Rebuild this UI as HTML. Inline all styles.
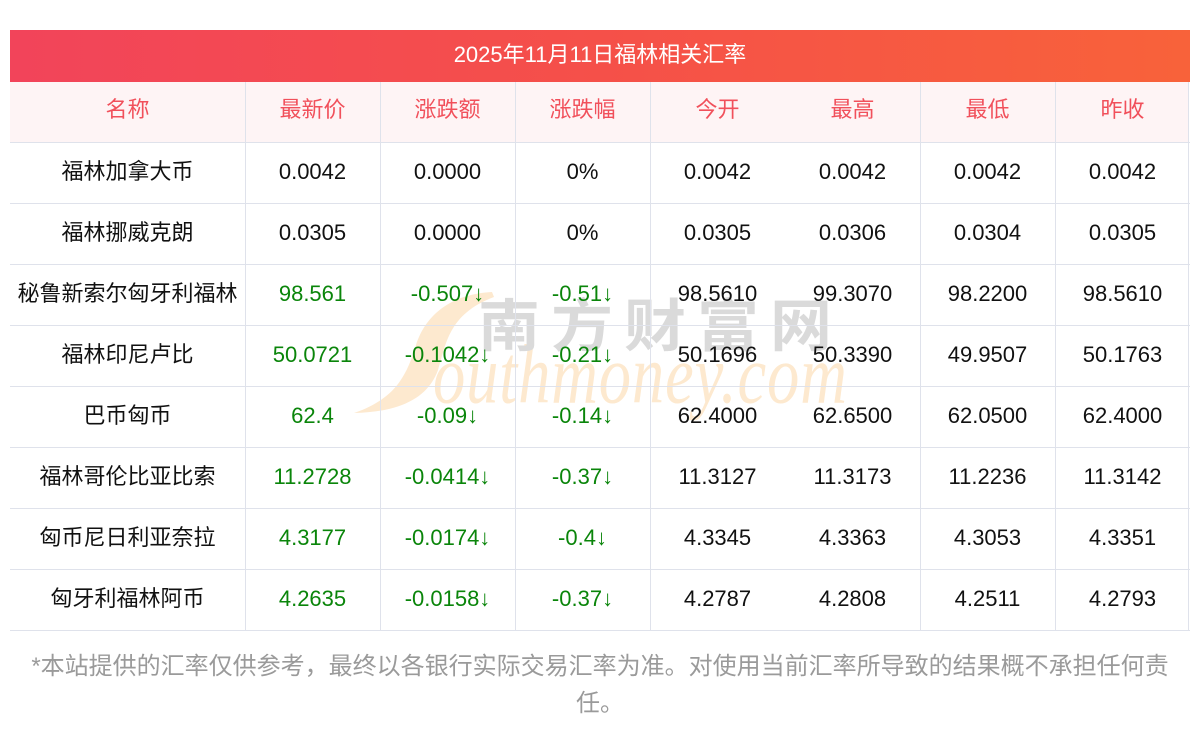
<!DOCTYPE html>
<html><head><meta charset="utf-8">
<style>
*{margin:0;padding:0;box-sizing:border-box}
html,body{width:1200px;height:733px;background:#fff;overflow:hidden}
body{position:relative;font-family:"Liberation Sans","Noto Sans CJK SC",sans-serif}
.title{position:absolute;left:10px;top:30px;width:1180px;height:52px;background:linear-gradient(90deg,#f2445a 0%,#f55049 50%,#f8623a 100%);color:#fff;font-size:22px;line-height:50px;text-align:center;z-index:3}
.hdrbg{position:absolute;left:10px;top:82px;width:1179px;height:60px;background:#fef4f5;z-index:0}
.row{position:absolute;left:10px;width:1180px;display:flex;z-index:4}
.row div{text-align:center;font-size:22px;color:#111;white-space:nowrap}
.row div:first-child{width:235px}
.row div:not(:first-child){width:135px}
.hdr div{color:#f1505b}
.g{color:#0a850a !important}
.hl{position:absolute;left:10px;width:1180px;height:1px;background:#dfe2eb;z-index:2}
.vl{position:absolute;top:82px;width:1px;height:549px;background:#dfe2eb;z-index:2}
.foot{position:absolute;left:0;top:648px;width:1200px;text-align:center;font-size:24px;line-height:37px;color:#9a9a9a;z-index:4}
.wm1{position:absolute;left:478px;top:290px;font-family:"Noto Sans CJK SC",sans-serif;font-weight:700;font-size:62px;line-height:62px;letter-spacing:11px;color:#dadada;z-index:1;transform:scaleY(0.92)}
.wm2{position:absolute;left:433px;top:340px;font-family:"Liberation Serif",serif;font-style:italic;font-size:76px;line-height:76px;color:#fde9cf;z-index:1;transform-origin:0 68px;transform:scale(0.85,1.1);letter-spacing:1px}
svg.s{position:absolute;left:0;top:0;z-index:1}
</style></head><body>
<div class="title">2025年11月11日福林相关汇率</div>
<div class="hdrbg"></div>

<svg class="s" width="1200" height="733"><path d="M492,292 C452,294 426,314 416,345 C406,378 394,399 354,413 C400,412 428,398 438,370 C446,345 448,314 494,297 Z" fill="#fde9cf"/></svg>
<div class="wm2">outhmoney.com</div>
<div class="wm1">南方财富网</div>

<div class="hl" style="top:142px"></div>
<div class="hl" style="top:203px"></div>
<div class="hl" style="top:264px"></div>
<div class="hl" style="top:325px"></div>
<div class="hl" style="top:386px"></div>
<div class="hl" style="top:447px"></div>
<div class="hl" style="top:508px"></div>
<div class="hl" style="top:569px"></div>
<div class="hl" style="top:630px"></div>
<div class="vl" style="left:245px"></div>
<div class="vl" style="left:380px"></div>
<div class="vl" style="left:515px"></div>
<div class="vl" style="left:650px"></div>
<div class="vl" style="left:920px"></div>
<div class="vl" style="left:1055px"></div>
<div class="vl" style="left:1188px"></div>

<div class="row hdr" style="top:82px;height:60px;line-height:56px"><div>名称</div><div>最新价</div><div>涨跌额</div><div>涨跌幅</div><div>今开</div><div>最高</div><div>最低</div><div>昨收</div></div>
<div class="row" style="top:142px;height:61px;line-height:59px"><div>福林加拿大币</div><div>0.0042</div><div>0.0000</div><div>0%</div><div>0.0042</div><div>0.0042</div><div>0.0042</div><div>0.0042</div></div>
<div class="row" style="top:203px;height:61px;line-height:59px"><div>福林挪威克朗</div><div>0.0305</div><div>0.0000</div><div>0%</div><div>0.0305</div><div>0.0306</div><div>0.0304</div><div>0.0305</div></div>
<div class="row" style="top:264px;height:61px;line-height:59px"><div>秘鲁新索尔匈牙利福林</div><div class="g">98.561</div><div class="g">-0.507↓</div><div class="g">-0.51↓</div><div>98.5610</div><div>99.3070</div><div>98.2200</div><div>98.5610</div></div>
<div class="row" style="top:325px;height:61px;line-height:59px"><div>福林印尼卢比</div><div class="g">50.0721</div><div class="g">-0.1042↓</div><div class="g">-0.21↓</div><div>50.1696</div><div>50.3390</div><div>49.9507</div><div>50.1763</div></div>
<div class="row" style="top:386px;height:61px;line-height:59px"><div>巴币匈币</div><div class="g">62.4</div><div class="g">-0.09↓</div><div class="g">-0.14↓</div><div>62.4000</div><div>62.6500</div><div>62.0500</div><div>62.4000</div></div>
<div class="row" style="top:447px;height:61px;line-height:59px"><div>福林哥伦比亚比索</div><div class="g">11.2728</div><div class="g">-0.0414↓</div><div class="g">-0.37↓</div><div>11.3127</div><div>11.3173</div><div>11.2236</div><div>11.3142</div></div>
<div class="row" style="top:508px;height:61px;line-height:59px"><div>匈币尼日利亚奈拉</div><div class="g">4.3177</div><div class="g">-0.0174↓</div><div class="g">-0.4↓</div><div>4.3345</div><div>4.3363</div><div>4.3053</div><div>4.3351</div></div>
<div class="row" style="top:569px;height:61px;line-height:59px"><div>匈牙利福林阿币</div><div class="g">4.2635</div><div class="g">-0.0158↓</div><div class="g">-0.37↓</div><div>4.2787</div><div>4.2808</div><div>4.2511</div><div>4.2793</div></div>

<div class="foot">*本站提供的汇率仅供参考，最终以各银行实际交易汇率为准。对使用当前汇率所导致的结果概不承担任何责<br>任。</div>
</body></html>
